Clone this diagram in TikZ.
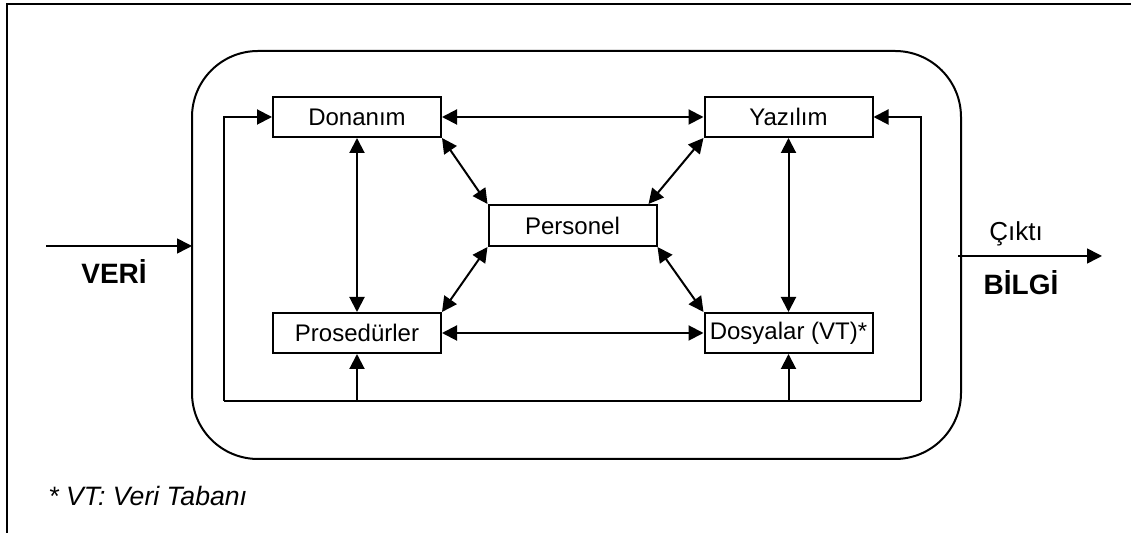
\documentclass[tikz,border=0pt]{standalone}
\usepackage{fontspec}
\setmainfont{Liberation Sans}
\usepackage{tikz}
\usetikzlibrary{positioning}
\usetikzlibrary{arrows.meta}
\tikzset{kutu/.style={draw, line width=1pt, minimum width=84pt, minimum height=20pt, inner sep=0pt, font=\fontsize{12}{14}\selectfont}}
\tikzset{ok/.style={line width=1pt, -{Triangle[length=7.5pt,width=7.5pt]}}}
\tikzset{ciftok/.style={line width=1pt, {Triangle[length=7.5pt,width=7.5pt]}-{Triangle[length=7.5pt,width=7.5pt]}}}

\begin{document}
\begin{tikzpicture}[x=0.5pt,y=-0.5pt]
\useasboundingbox (0,0) rectangle (1131,533);
% cerceve
\draw[line width=1.2pt] (7,533) -- (7,4) -- (1131,4);
\draw[line width=1pt, rounded corners=33pt] (192,51) rectangle (961,459);
% bilesenler
\node[kutu] (don) at (357,117) {Donanım};
\node[kutu] (yaz) at (788.5,117) {Yazılım};
\node[kutu, minimum height=20.5pt] (per) at (572.5,225.5) {Personel};
\node[kutu] (pro) at (357,333) {Prosedürler};
\node[kutu] (dos) at (788.5,333) {Dosyalar (VT)*};
\draw[ciftok] (don) -- (yaz);
\draw[ciftok] (pro) -- (dos);
\draw[ciftok] (don) -- (pro);
\draw[ciftok] (yaz) -- (dos);
\draw[ciftok] (don.south east) -- (per.north west);
\draw[ciftok] (yaz.south west) -- ([xshift=-4.5pt]per.north east);
\draw[ciftok] (per.south west) -- (pro.north east);
\draw[ciftok] (per.south east) -- (dos.north west);
% geri besleme
\coordinate (solalt) at (224,401);
\coordinate (sagalt) at (921,401);
\draw[line width=1pt] (solalt) -- (sagalt);
\draw[ok] (solalt) |- (don.west);
\draw[ok] (sagalt) |- (yaz.east);
\draw[ok] (pro.south |- solalt) -- (pro.south);
\draw[ok] (dos.south |- solalt) -- (dos.south);
% giris - cikis
\coordinate (giris) at (46,246);
\coordinate (sistem) at (192,246);
\coordinate (cikisbas) at (958,256);
\coordinate (cikis) at (1102,256);
\draw[ok, line width=0.8pt] (giris) -- (sistem);
\draw[ok, line width=0.8pt] (cikisbas) -- (cikis);
\node[font=\fontsize{14}{16}\selectfont\bfseries] (veri) at (114,272) {VERİ};
\node[font=\fontsize{13}{15}\selectfont] (ciktitxt) at (1016,234) {Çıktı};
\node[font=\fontsize{14}{16}\selectfont\bfseries] (bilgi) at (1021,283) {BİLGİ};
\node[font=\fontsize{13.3}{15}\selectfont\itshape, anchor=west, inner sep=0pt] (dipnot) at (48,496) {* VT: Veri Tabanı};
\end{tikzpicture}
\end{document}
